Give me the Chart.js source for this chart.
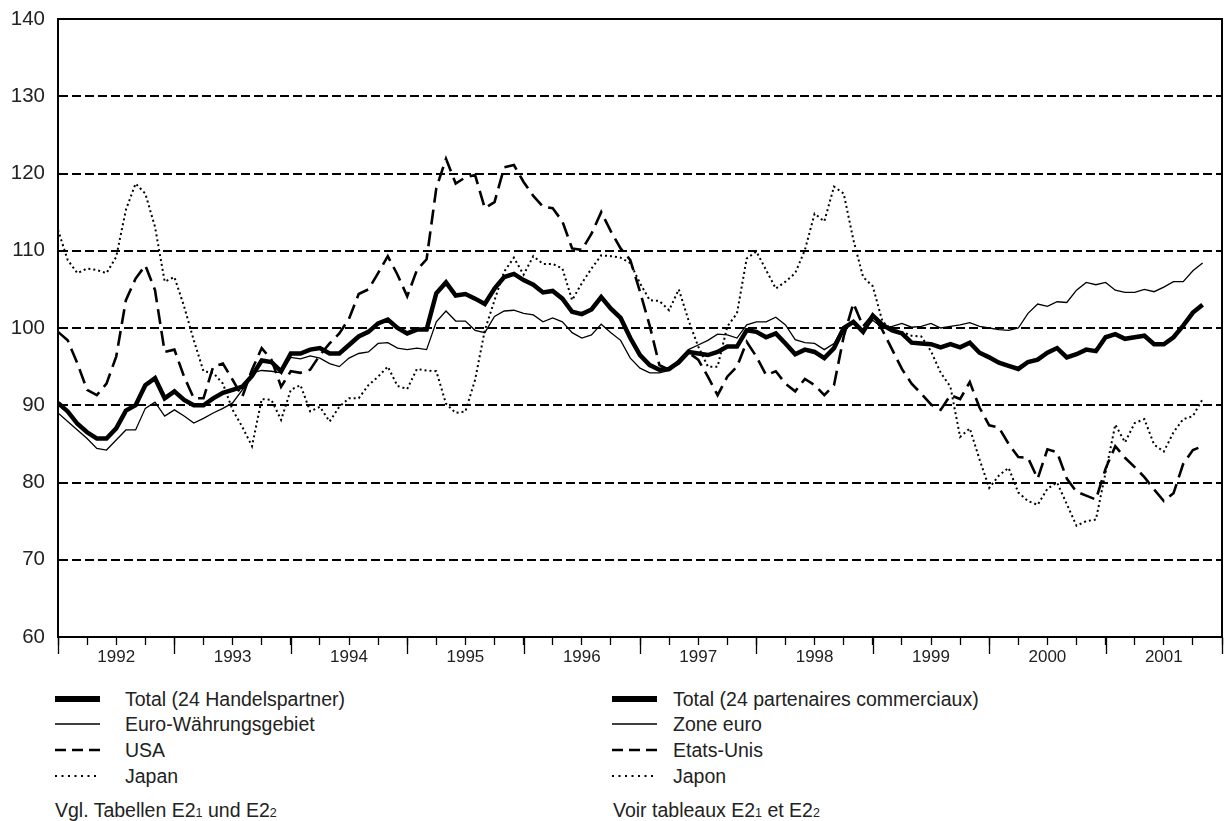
<!DOCTYPE html>
<html>
<head>
<meta charset="utf-8">
<script src="https://cdn.jsdelivr.net/npm/chart.js@4"></script>
<style>
  body { margin: 0; background: #fff; font-family: "Liberation Sans", Arial, sans-serif; color: #222; }
  #wrap { position: relative; width: 1231px; height: 821px; }
  #chart { position: absolute; left: 0; top: 0; }
  .item { position: absolute; height: 24px; font-size: 19.5px; line-height: 24px; white-space: nowrap; }
  .item svg { position: absolute; left: 0; top: 7px; }
  .item span.t { position: absolute; top: 0; }
  .note { position: absolute; font-size: 19.5px; line-height: 24px; white-space: nowrap; }
  .note small { font-size: 12.5px; }
</style>
</head>
<body>
<div id="wrap">
  <canvas id="chart" width="1231" height="680"></canvas>
  <div id="legend"></div>
  <div class="note" style="left:55px; top:798px;">Vgl. Tabellen E2<small>1</small> und E2<small>2</small></div>
  <div class="note" style="left:613px; top:798px;">Voir tableaux E2<small>1</small> et E2<small>2</small></div>
</div>
<script>
// monthly index values, Jan 1992 = month 0
var startYear = 1992;
var years = ['1992', '1993', '1994', '1995', '1996', '1997', '1998', '1999', '2000', '2001'];
var yTicks = [60, 70, 80, 90, 100, 110, 120, 130, 140];

var total = [90.3, 89.2, 87.6, 86.5, 85.7, 85.7, 87.0, 89.3, 90.0, 92.6, 93.5, 90.9,
  91.8, 90.7, 90.0, 90.0, 90.9, 91.6, 92.0, 92.4, 93.8, 95.8, 95.6, 94.4,
  96.7, 96.7, 97.2, 97.4, 96.7, 96.7, 97.8, 98.9, 99.5, 100.6, 101.1, 100.0,
  99.3, 99.8, 99.8, 104.5, 105.9, 104.2, 104.4, 103.8, 103.1, 105.1, 106.6, 107.0,
  106.2, 105.6, 104.6, 104.8, 103.8, 102.1, 101.8, 102.4, 104.0, 102.5, 101.3, 98.7,
  96.5, 95.2, 94.6, 94.7, 95.6, 96.9, 96.7, 96.5, 96.9, 97.6, 97.6, 99.7,
  99.5, 98.8, 99.3, 98.0, 96.6, 97.2, 96.9, 96.1, 97.4, 100.0, 100.8, 99.5,
  101.6, 100.4, 99.7, 99.3, 98.1, 98.0, 97.9, 97.5, 97.9, 97.5, 98.1, 96.8,
  96.2, 95.5, 95.1, 94.7, 95.6, 95.9, 96.8, 97.4, 96.2, 96.6, 97.2, 97.0,
  98.8, 99.2, 98.6, 98.8, 99.0, 97.9, 97.9, 98.8, 100.3, 102.0, 103.0];

var euro = [89.0, 87.9, 86.8, 85.7, 84.4, 84.2, 85.5, 86.8, 86.8, 89.6, 90.4, 88.6,
  89.4, 88.6, 87.7, 88.3, 89.0, 89.6, 90.3, 92.0, 94.2, 94.5, 94.4, 94.2,
  96.2, 96.0, 96.4, 96.1, 95.4, 95.0, 96.1, 96.7, 96.9, 98.0, 98.1, 97.4,
  97.2, 97.4, 97.2, 100.8, 102.2, 100.9, 100.9, 99.7, 99.4, 101.5, 102.2, 102.3,
  101.9, 101.7, 100.8, 101.3, 100.8, 99.4, 98.7, 99.1, 100.5, 99.4, 98.4, 96.1,
  94.8, 94.2, 94.2, 94.5, 95.9, 97.2, 97.8, 98.4, 99.2, 99.1, 98.7, 100.4,
  100.8, 100.8, 101.4, 100.4, 98.5, 98.1, 98.0, 97.2, 98.0, 100.2, 100.6, 99.7,
  101.0, 100.0, 100.2, 100.6, 100.1, 100.2, 100.6, 100.0, 100.2, 100.4, 100.7, 100.2,
  100.0, 99.8, 99.7, 100.0, 101.9, 103.1, 102.8, 103.4, 103.3, 104.9, 105.9, 105.6,
  105.9, 104.9, 104.6, 104.6, 105.0, 104.7, 105.3, 106.0, 106.0, 107.4, 108.4];

var usa = [99.5, 98.4, 95.4, 92.0, 91.3, 92.8, 96.3, 103.6, 106.4, 108.1, 104.9, 96.9,
  97.2, 93.7, 90.9, 90.9, 95.0, 95.4, 93.3, 91.1, 94.6, 97.4, 95.9, 92.4,
  94.4, 94.2, 94.6, 96.5, 98.0, 99.3, 101.2, 104.4, 105.0, 107.1, 109.3, 106.9,
  104.1, 107.5, 108.9, 118.1, 121.9, 118.7, 119.5, 119.8, 115.5, 116.3, 120.8, 121.1,
  118.9, 117.1, 115.7, 115.5, 113.8, 110.3, 110.1, 112.2, 115.0, 112.5, 110.3, 108.8,
  104.7, 100.3, 95.2, 94.6, 95.4, 96.8, 95.9, 93.7, 91.3, 93.7, 95.0, 98.2,
  96.3, 93.9, 94.4, 92.8, 91.8, 93.4, 92.6, 91.3, 92.6, 98.9, 103.2, 100.2,
  101.7, 99.7, 97.2, 94.7, 92.8, 91.5, 90.1, 89.4, 91.3, 90.8, 93.0, 89.7,
  87.4, 87.1, 85.0, 83.3, 83.2, 80.5, 84.3, 83.9, 80.5, 78.8, 78.3, 77.8,
  81.8, 84.7, 83.2, 82.0, 80.7, 79.1, 77.6, 78.6, 82.4, 84.2, 84.7];

var japan = [112.7, 108.8, 107.1, 107.7, 107.5, 107.1, 109.2, 115.3, 118.7, 117.4, 113.1, 106.0,
  106.6, 102.8, 98.4, 94.4, 94.2, 92.8, 89.4, 87.2, 84.7, 90.8, 90.7, 88.1,
  92.0, 92.6, 89.2, 89.8, 87.9, 89.8, 90.9, 90.9, 92.6, 93.7, 95.0, 92.5,
  92.1, 94.7, 94.5, 94.4, 90.2, 89.0, 89.2, 93.3, 99.7, 103.6, 107.3, 109.1,
  106.9, 109.3, 108.3, 108.3, 107.7, 103.6, 105.8, 107.7, 109.4, 109.3, 109.1, 108.4,
  105.8, 103.6, 103.5, 102.3, 105.0, 101.0, 97.6, 95.0, 95.0, 100.2, 101.9, 109.0,
  109.9, 107.5, 105.1, 106.0, 107.1, 110.1, 114.8, 113.8, 118.3, 117.4, 111.4, 106.6,
  105.4, 100.8, 99.8, 99.5, 99.0, 98.9, 97.0, 94.2, 92.4, 85.9, 87.0, 83.0,
  79.3, 80.9, 81.9, 78.7, 77.6, 77.1, 79.2, 80.0, 77.2, 74.4, 75.0, 75.2,
  81.3, 87.5, 85.2, 87.7, 88.2, 84.9, 84.0, 86.5, 88.2, 88.6, 90.8];

var labelsDe = ['Total (24 Handelspartner)', 'Euro-Währungsgebiet', 'USA', 'Japan'];
var labelsFr = ['Total (24 partenaires commerciaux)', 'Zone euro', 'Etats-Unis', 'Japon'];

function pts(arr) {
  return arr.map(function (v, i) { return { x: i, y: v }; });
}

var styles = [
  { width: 4.5, dash: [], sample: 'none', sampleWidth: 6 },
  { width: 1.3, dash: [], sample: 'none', sampleWidth: 1.3 },
  { width: 2.6, dash: [15, 7], sample: '11 6', sampleWidth: 2.6 },
  { width: 2, dash: [2, 3], sample: '2 4.5', sampleWidth: 2 }
];
var series = [total, euro, usa, japan];

var frame = {
  id: 'frame',
  afterDraw: function (chart) {
    var c = chart.ctx, a = chart.chartArea, xs = chart.scales.x;
    c.save();
    c.strokeStyle = '#000';
    c.lineWidth = 2;
    c.strokeRect(a.left, a.top, a.right - a.left, a.bottom - a.top);
    // longer ticks at each year boundary
    c.lineWidth = 1.3;
    for (var m = 0; m <= years.length * 12; m += 12) {
      var x = Math.round(xs.getPixelForValue(m)) + 0.5;
      c.beginPath();
      c.moveTo(x, a.bottom);
      c.lineTo(x, a.bottom + 17);
      c.stroke();
    }
    c.restore();
  }
};

new Chart(document.getElementById('chart'), {
  type: 'line',
  data: {
    datasets: series.map(function (s, k) {
      return {
        label: labelsDe[k],
        data: pts(s),
        borderColor: '#000',
        borderWidth: styles[k].width,
        borderDash: styles[k].dash,
        pointRadius: 0,
        tension: 0,
        fill: false
      };
    })
  },
  options: {
    responsive: false,
    animation: false,
    layout: { padding: { left: 0, top: 19, right: 9, bottom: 0 } },
    plugins: { legend: { display: false }, tooltip: { enabled: false } },
    scales: {
      x: {
        type: 'linear',
        min: 0,
        max: years.length * 12,
        afterFit: function (s) { s.height = 43; s.paddingLeft = 0; s.paddingRight = 0; },
        afterBuildTicks: function (s) {
          var t = [];
          for (var m = 0; m <= years.length * 12; m += 3) t.push({ value: m });
          s.ticks = t;
        },
        border: { display: true, color: '#000', width: 2 },
        grid: { drawOnChartArea: false, drawTicks: true, tickLength: 8, tickColor: '#000', tickWidth: 1.3 },
        ticks: {
          autoSkip: false,
          maxRotation: 0,
          padding: 2,
          color: '#222',
          font: { family: '"Liberation Sans", Arial, sans-serif', size: 17 },
          callback: function (v) {
            return v % 12 === 6 ? years[(v - 6) / 12] : '';
          }
        }
      },
      y: {
        min: 60,
        max: 140,
        afterFit: function (s) { s.width = 58; s.paddingTop = 0; s.paddingBottom = 0; },
        afterBuildTicks: function (s) {
          s.ticks = yTicks.map(function (v) { return { value: v }; });
        },
        border: { display: true, color: '#000', width: 2, dash: [9, 4] },
        grid: {
          drawTicks: false,
          color: function (ctx) {
            var v = ctx.tick && ctx.tick.value;
            return (v === 60 || v === 140) ? 'rgba(0,0,0,0)' : '#000';
          },
          lineWidth: 2
        },
        ticks: {
          padding: 13,
          color: '#222',
          font: { family: '"Liberation Sans", Arial, sans-serif', size: 20.5 }
        }
      }
    }
  },
  plugins: [frame]
});

// legend, two languages side by side
var legend = document.getElementById('legend');
var rowsY = [687, 712, 738, 764];
[[55, 125, labelsDe], [612, 673, labelsFr]].forEach(function (col) {
  col[2].forEach(function (txt, k) {
    var d = document.createElement('div');
    d.className = 'item';
    d.style.left = col[0] + 'px';
    d.style.top = rowsY[k] + 'px';
    d.innerHTML = '<svg width="46" height="10"><line x1="0" y1="5" x2="45" y2="5" stroke="#000" stroke-width="' +
      styles[k].sampleWidth + '" stroke-dasharray="' + styles[k].sample + '"/></svg>' +
      '<span class="t" style="left:' + (col[1] - col[0]) + 'px">' + txt + '</span>';
    legend.appendChild(d);
  });
});
</script>
</body>
</html>
